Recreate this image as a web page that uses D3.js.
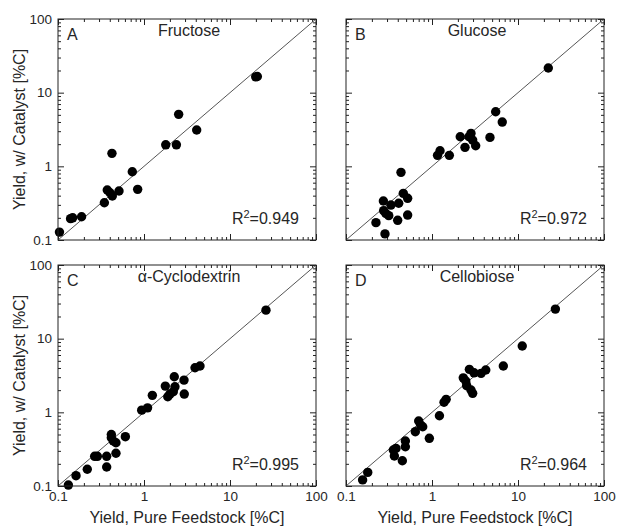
<!DOCTYPE html>
<html>
<head>
<meta charset="utf-8">
<script src="https://cdn.jsdelivr.net/npm/d3@7"></script>
<style>
body { margin: 0; background: #fff; }
text { font-family: "Liberation Sans", Arial, sans-serif; fill: #262626; }
</style>
</head>
<body>
<div id="chart"></div>
<script>
// values (pure feedstock yield vs yield with catalyst, %C)
var fructoseX = [0.104, 0.14, 0.148, 0.188, 0.346, 0.374, 0.402, 0.428, 0.512, 0.424, 0.731, 0.844, 1.79, 2.38, 2.53, 4.1, 19.9, 20.8];
var fructoseY = [0.128, 0.195, 0.2, 0.207, 0.32, 0.477, 0.438, 0.395, 0.462, 1.5, 0.845, 0.487, 1.96, 1.96, 5.08, 3.11, 16.4, 16.6];

var glucoseX = [0.223, 0.284, 0.272, 0.274, 0.29, 0.314, 0.333, 0.399, 0.41, 0.436, 0.464, 0.521, 0.521, 1.16, 1.24, 1.59, 2.13, 2.42, 2.69, 2.84, 2.97, 3.22, 4.72, 5.5, 6.56, 22.5];
var glucoseY = [0.172, 0.121, 0.338, 0.25, 0.23, 0.214, 0.298, 0.185, 0.315, 0.829, 0.43, 0.368, 0.218, 1.41, 1.63, 1.41, 2.52, 1.81, 2.52, 2.8, 2.27, 1.9, 2.47, 5.5, 3.99, 21.6];

var cyclodextrinX = [0.132, 0.162, 0.219, 0.267, 0.287, 0.368, 0.368, 0.417, 0.417, 0.44, 0.472, 0.472, 0.607, 0.94, 1.1, 1.25, 1.77, 1.89, 2.0, 2.19, 2.25, 2.29, 2.92, 2.94, 3.92, 4.48, 26.2];
var cyclodextrinY = [0.103, 0.138, 0.169, 0.253, 0.253, 0.253, 0.181, 0.5, 0.452, 0.408, 0.387, 0.278, 0.467, 1.07, 1.15, 1.7, 2.27, 1.63, 1.77, 1.9, 3.04, 2.22, 2.74, 1.77, 4.03, 4.25, 24.4];

var cellobioseX = [0.156, 0.179, 0.355, 0.381, 0.365, 0.452, 0.49, 0.49, 0.64, 0.7, 0.738, 0.78, 0.931, 1.22, 1.38, 1.46, 2.31, 2.47, 2.53, 2.72, 2.84, 2.97, 3.08, 3.72, 4.22, 6.75, 11.2, 27.2];
var cellobioseY = [0.121, 0.153, 0.308, 0.324, 0.255, 0.22, 0.408, 0.341, 0.546, 0.762, 0.673, 0.638, 0.444, 0.9, 1.37, 1.5, 2.94, 2.66, 2.3, 3.83, 2.01, 1.81, 3.44, 3.38, 3.75, 4.25, 7.94, 25.2];

var panelLetters = ["A", "B", "C", "D"];
var panelTitles = ["Fructose", "Glucose", "\u03b1-Cyclodextrin", "Cellobiose"];
var rSquared = ["0.949", "0.972", "0.995", "0.964"];

var majorTicks = [0.1, 1, 10, 100];
var tickLabels = ["0.1", "1", "10", "100"];
var minorTicks = [0.2, 0.3, 0.4, 0.5, 0.6, 0.7, 0.8, 0.9, 2, 3, 4, 5, 6, 7, 8, 9, 20, 30, 40, 50, 60, 70, 80, 90];

var xTitle = "Yield, Pure Feedstock [%C]";
var yTitle = "Yield, w/ Catalyst [%C]";

var width = 618, height = 529;
var panelW = 258, panelH = 221;
var lefts = [58, 346], tops = [19, 265];

var svg = d3.select("#chart")
  .append("svg")
    .attr("width", width)
    .attr("height", height);

var fmt = function(d) { return tickLabels[majorTicks.indexOf(d)]; };

function drawPanel(i, xs, ys) {
    var col = i % 2, row = Math.floor(i / 2);
    var g = svg.append("g")
        .attr("transform", "translate(" + lefts[col] + "," + tops[row] + ")");

    var x = d3.scaleLog().domain([0.1, 100]).range([0, panelW]);
    var y = d3.scaleLog().domain([0.1, 100]).range([panelH, 0]);

    var showX = row == 1, showY = col == 0;

    // inward ticks on all four sides, labels only on outer edges
    var axes = [
        [d3.axisBottom, x, "translate(0," + panelH + ")", showX],
        [d3.axisTop, x, "translate(0,0)", false],
        [d3.axisLeft, y, "translate(0,0)", showY],
        [d3.axisRight, y, "translate(" + panelW + ",0)", false]
    ];
    axes.forEach(function(a) {
        var major = a[0](a[1]).tickValues(majorTicks).tickSizeInner(-6).tickSizeOuter(0)
            .tickPadding(a[0] === d3.axisBottom ? 5 : 6)
            .tickFormat(a[3] ? fmt : "");
        var minor = a[0](a[1]).tickValues(minorTicks).tickSizeInner(-3).tickSizeOuter(0).tickFormat("");
        var ga = g.append("g").attr("transform", a[2]).call(major);
        ga.select(".domain").remove();
        ga.selectAll("line").attr("stroke", "#222");
        ga.selectAll("text").style("font-size", "13.5px").attr("fill", "#262626")
          .style("font-family", "'Liberation Sans', Arial, sans-serif");
        var gm = g.append("g").attr("transform", a[2]).call(minor);
        gm.select(".domain").remove();
        gm.selectAll("line").attr("stroke", "#222");
    });

    // 1:1 line
    g.append("line")
        .attr("x1", x(0.1)).attr("y1", y(0.1))
        .attr("x2", x(100)).attr("y2", y(100))
        .attr("stroke", "#555")
        .attr("stroke-width", 1);

    g.selectAll(".dot")
        .data(d3.range(xs.length))
      .enter().append("circle")
        .attr("class", "dot")
        .attr("cx", function(d) { return x(xs[d]); })
        .attr("cy", function(d) { return y(ys[d]); })
        .attr("r", 4.7)
        .attr("fill", "#000");

    // frame
    g.append("rect")
        .attr("width", panelW)
        .attr("height", panelH)
        .attr("fill", "none")
        .attr("stroke", "#222")
        .attr("stroke-width", 1);

    g.append("text")
        .attr("x", 9)
        .attr("y", 21)
        .style("font-size", "16px")
        .text(panelLetters[i]);

    g.append("text")
        .attr("x", panelW / 2 + 2)
        .attr("y", 17)
        .attr("text-anchor", "middle")
        .style("font-size", "16px")
        .text(panelTitles[i]);

    var r2 = g.append("text")
        .attr("x", panelW - 17)
        .attr("y", panelH - 16)
        .attr("text-anchor", "end")
        .style("font-size", "16px");
    r2.append("tspan").text("R");
    r2.append("tspan").attr("dy", -6).style("font-size", "11px").text("2");
    r2.append("tspan").attr("dy", 6).text("=" + rSquared[i]);

    if (showY) {
        g.append("text")
            .attr("transform", "rotate(-90)")
            .attr("x", -panelH / 2)
            .attr("y", -lefts[0] + 25)
            .attr("text-anchor", "middle")
            .style("font-size", "16px")
            .text(yTitle);
    }
    if (showX) {
        g.append("text")
            .attr("x", panelW / 2)
            .attr("y", panelH + 37)
            .attr("text-anchor", "middle")
            .style("font-size", "16px")
            .text(xTitle);
    }
}

drawPanel(0, fructoseX, fructoseY);
drawPanel(1, glucoseX, glucoseY);
drawPanel(2, cyclodextrinX, cyclodextrinY);
drawPanel(3, cellobioseX, cellobioseY);
</script>
</body>
</html>
